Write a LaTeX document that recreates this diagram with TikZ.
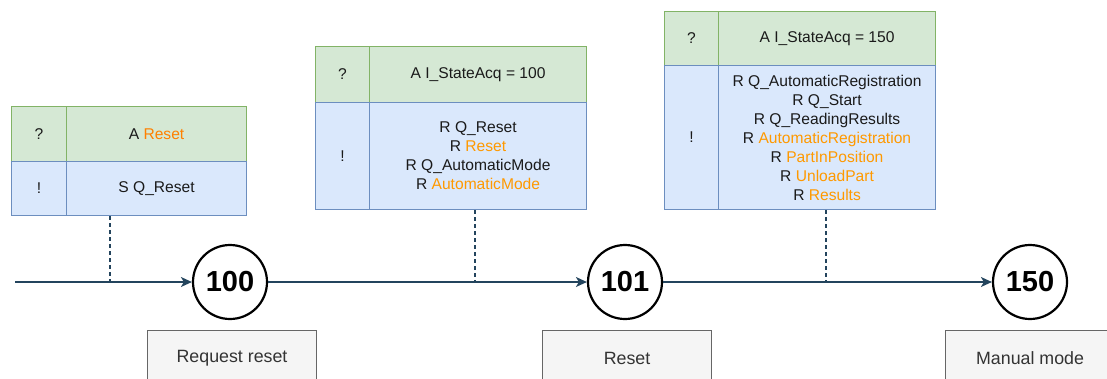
\documentclass[tikz,border=0pt]{standalone}
\usepackage{fontspec}
\setmainfont{Liberation Sans}
\usetikzlibrary{arrows.meta}
\definecolor{qfill}{HTML}{D5E8D4}
\definecolor{qline}{HTML}{82B366}
\definecolor{afill}{HTML}{DAE8FC}
\definecolor{aline}{HTML}{6C8EBF}
\definecolor{flow}{HTML}{23445D}
\definecolor{sig}{HTML}{FF9900}
\definecolor{sigb}{HTML}{FF8000}
\definecolor{txt}{HTML}{1A1A1A}
\definecolor{noteline}{HTML}{666666}
\definecolor{notefill}{HTML}{F5F5F5}
\definecolor{notetxt}{HTML}{333333}
\begin{document}
\begin{tikzpicture}[x=1pt,y=-1pt,
  cell/.style={draw, line width=1.1pt, inner sep=0pt, anchor=north west,
    align=center, text=txt, font=\fontsize{15.6}{19}\selectfont},
  qcell/.style={cell, draw=qline, fill=qfill},
  acell/.style={cell, draw=aline, fill=afill},
  stepnode/.style={circle, draw=black, line width=2.2pt, fill=white,
    minimum size=74pt, inner sep=0pt, font=\fontsize{29}{29}\bfseries\selectfont},
  notebox/.style={draw=noteline, line width=1.1pt, fill=notefill, anchor=north west,
    minimum width=169pt, minimum height=55pt, inner sep=0pt, text=notetxt,
    font=\fontsize{17.8}{20}\selectfont},
  flowline/.style={draw=flow, line width=1.4pt, -{Stealth[length=11pt,width=10pt,inset=3pt]}},
  tie/.style={draw=flow, line width=1.2pt, dash pattern=on 4pt off 3pt}
]
\clip (0,0) rectangle (1107,378);

% step 100
\node[qcell, minimum width=55pt, minimum height=55pt] (t1q) at (11,106) {?};
\node[qcell, minimum width=180pt, minimum height=55pt] (t1c) at (66,106) {A \textcolor{sigb}{Reset}};
\node[acell, minimum width=55pt, minimum height=54pt] (t1x) at (11,161) {!};
\node[acell, minimum width=180pt, minimum height=54pt] (t1a) at (66,161) {S Q\_Reset};

% step 101
\node[qcell, minimum width=54pt, minimum height=56pt] (t2q) at (315,46) {?};
\node[qcell, minimum width=217pt, minimum height=56pt] (t2c) at (369,46) {A I\_StateAcq = 100};
\node[acell, minimum width=54pt, minimum height=107pt] (t2x) at (315,102) {!};
\node[acell, minimum width=217pt, minimum height=107pt] (t2a) at (369,102)
  {R Q\_Reset\\R \textcolor{sig}{Reset}\\R Q\_AutomaticMode\\R \textcolor{sig}{AutomaticMode}};

% step 150
\node[qcell, minimum width=54pt, minimum height=54pt] (t3q) at (664,11) {?};
\node[qcell, minimum width=217pt, minimum height=54pt] (t3c) at (718,11) {A I\_StateAcq = 150};
\node[acell, minimum width=54pt, minimum height=144pt] (t3x) at (664,65) {!};
\node[acell, minimum width=217pt, minimum height=144pt] (t3a) at (718,65)
  {R Q\_AutomaticRegistration\\R Q\_Start\\R Q\_ReadingResults\\
   R \textcolor{sig}{AutomaticRegistration}\\R \textcolor{sig}{PartInPosition}\\
   R \textcolor{sig}{UnloadPart}\\R \textcolor{sig}{Results}};

% steps
\node[stepnode] (s100) at (230,282) {100};
\node[stepnode] (s101) at (625,282) {101};
\node[stepnode] (s150) at (1030,282) {150};

% step descriptions
\node[notebox] (n100) at (147,330) {Request reset};
\node[notebox] (n101) at (542,330) {Reset};
\node[notebox] (n150) at (945,330) {Manual mode};

% transitions
\coordinate (start) at (15,282);
\coordinate (j1) at (110,282);
\coordinate (j2) at (475,282);
\coordinate (j3) at (826,282);
\draw[flowline] (start) -- (s100);
\draw[flowline] (s100) -- (s101);
\draw[flowline] (s101) -- (s150);

% transition conditions
\draw[tie] (t1a.south west -| j1) -- (j1);
\draw[tie] (t2a.south west -| j2) -- (j2);
\draw[tie] (t3a.south west -| j3) -- (j3);
\end{tikzpicture}
\end{document}
